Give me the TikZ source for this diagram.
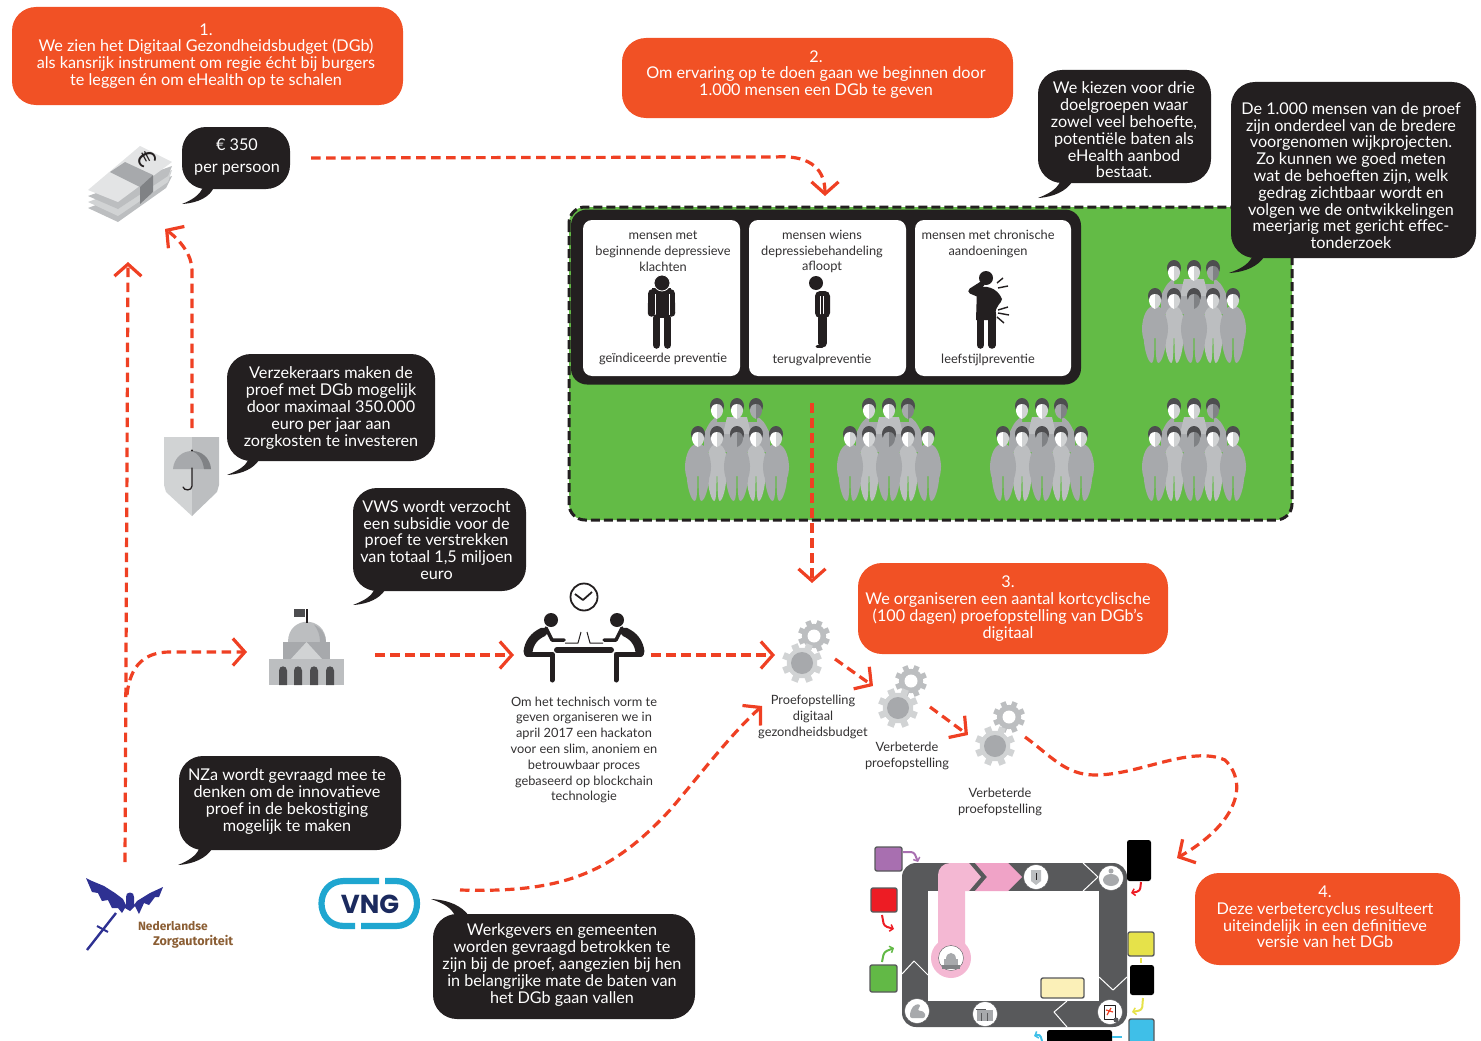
\documentclass[tikz,border=0pt]{standalone}
\usepackage{fontspec}
\setmainfont{Lato}
\newfontfamily\logofont{Fira Sans}
\newfontfamily\vngfont{Poppins}
\usetikzlibrary{arrows.meta}
\definecolor{org}{HTML}{F15125}
\definecolor{ink}{HTML}{231F20}
\definecolor{grn}{HTML}{63BB46}
\definecolor{red1}{HTML}{EF4023}
\definecolor{g1}{HTML}{D1D3D4}
\definecolor{g2}{HTML}{BCBEC0}
\definecolor{g3}{HTML}{A7A9AC}
\definecolor{g4}{HTML}{808285}
\definecolor{g5}{HTML}{58595B}
\definecolor{g6}{HTML}{4D4D4F}
\definecolor{pk1}{HTML}{F4B8D3}
\definecolor{pk2}{HTML}{F0A3C7}
\definecolor{txt}{HTML}{333132}
\definecolor{pale}{HTML}{FBF0B8}
\definecolor{pur}{HTML}{A86FB0}
\definecolor{rd}{HTML}{ED1C24}
\definecolor{gr2}{HTML}{62B946}
\definecolor{yl}{HTML}{E6E24A}
\definecolor{bl}{HTML}{3FBFE8}
\definecolor{nzblue}{HTML}{2E3192}
\definecolor{nzbrown}{HTML}{8B5E34}
\definecolor{vngc}{HTML}{1FA6D0}
\definecolor{vngd}{HTML}{1B2A5E}
\tikzset{
  bub/.style={rounded corners=24pt,inner sep=0pt,outer sep=0pt},
  orangebub/.style={bub,fill=org},
  blackbub/.style={bub,fill=ink},
  bubtext/.style={align=center,inner sep=0pt,text=white,font=\fontsize{16.2}{16.8}\selectfont},
  tail/.style={fill=ink},
  small/.style={align=center,inner sep=0pt,text=txt,font=\fontsize{12.8}{15.8}\selectfont},
  icon/.style={inner sep=0pt,outer sep=0pt},
  link/.style={draw=red1,line width=3.2pt,dash pattern=on 9.5pt off 5.5pt,-{Straight Barb[length=12pt,width=27pt,line width=3.2pt]}},
  whitebox/.style={fill=white,rounded corners=9pt},
  mini/.style={line width=2pt,-{Straight Barb[length=3pt,width=7pt,line width=1.5pt]},rounded corners=3pt},
  cbox/.style={icon,draw=g5,line width=1.4pt,rounded corners=2pt},
  bk/.style={icon,fill=black,rounded corners=2.5pt},
  chev/.style={draw=white,line width=1pt},
  disc/.style={circle,fill=white,draw=g5,line width=.4pt,minimum size=25pt,inner sep=0pt},
  limb/.style={draw=ink,line cap=round,line join=round},
}
\newcommand\crowdman[6]{% x y xscale body faceL faceR
  \begin{scope}[shift={(#1,#2)}]
    \begin{scope}[xscale=#3]
    \fill[#4] (-3,8) .. controls (-13,9) and (-20,18) .. (-21,30) .. controls (-21,34) and (-20,39) .. (-18,42)
       .. controls (-17,52) and (-11,65) .. (-5,65) .. controls (-2,65) and (-.8,55) .. (-.9,40) -- (.9,40)
       .. controls (.8,55) and (2,65) .. (5,65) .. controls (11,65) and (17,52) .. (18,42)
       .. controls (20,39) and (21,34) .. (21,30) .. controls (20,18) and (13,9) .. (3,8) -- cycle;
    \end{scope}
    \fill[g6] (0,-2) ellipse (7 and 8);
    \fill[#5] (0,-4) .. controls (-8,-4) and (-8,8) .. (0,11) -- cycle;
    \fill[#6] (0,-4) .. controls (8,-4) and (8,8) .. (0,11) -- cycle;
  \end{scope}}
\newcommand\crowdgroup[2]{% centre x, top offset
  \begin{scope}[shift={(#1,#2)}]
    \fill[g3] (-33,34) .. controls (-28,22) and (-24,18) .. (-20,17) -- (-20,22) -- (20,22) -- (20,17) .. controls (24,18) and (28,22) .. (33,34) -- (33,52) -- (-33,52) -- cycle;
    \fill[g2] (-10,17) -- (10,17) -- (14,34) -- (-14,34) -- cycle;
    \foreach \dx/\ca/\cb in {-20/white/g1,0/white/g1,19/g3/g4}{
      \fill[g6] (\dx,6) ellipse (7 and 8);
      \fill[\ca] (\dx,4) .. controls (\dx-8,4) and (\dx-8,16) .. (\dx,19) -- cycle;
      \fill[\cb] (\dx,4) .. controls (\dx+8,4) and (\dx+8,16) .. (\dx,19) -- cycle;
    }
    \crowdman{-20}{36}{.52}{g2}{white}{g1}
    \crowdman{19}{36}{.52}{g2}{white}{g1}
    \crowdman{-39}{36}{.62}{g3}{white}{g1}
    \crowdman{0}{36}{.62}{g3}{g3}{g4}
    \crowdman{39}{36}{.62}{g3}{white}{g1}
  \end{scope}}
\newcommand\drawgear[6]{%
  \begin{scope}[shift={(#1,#2)}]
    \fill[#5] (0,0) circle (#3*.76);
    \foreach \a in {0,45,...,315}{\fill[#5,rotate=\a+22.5] (-#3*.17,-#3*.7) rectangle (#3*.17,-#3);}
    \fill[#6] (0,0) circle (#4);
  \end{scope}}
\begin{document}
\begin{tikzpicture}[x=1pt,y=-1pt,line join=round]
\useasboundingbox (0,0) rectangle (1481,1041);

% green field
\node[icon,fill=grn,rounded corners=16pt,minimum width=723pt,minimum height=313pt] (field) at (930.5,363.5) {};
\draw[ink,line width=3pt,dash pattern=on 9pt off 4pt,rounded corners=16pt] (569,207) rectangle (1292,520);
\node[icon,fill=ink,rounded corners=16pt,minimum width=510pt,minimum height=175pt] (panel) at (826,297) {};
\node[icon,whitebox,minimum width=157pt,minimum height=156pt] (b1) at (661.5,298) {};
\node[icon,whitebox,minimum width=157pt,minimum height=156pt] (b2) at (827.5,298) {};
\node[icon,whitebox,minimum width=156pt,minimum height=156pt] (b3) at (993,298) {};
\node[small] (t1) at (663,251) {mensen met\\beginnende depressieve\\klachten};
\node[small] (t2) at (822,251.5) {mensen wiens\\depressiebehandeling\\afloopt};
\node[small] (t3) at (988,244) {mensen met chronische\\aandoeningen};
\node[small] (u1) at (663,359) {geïndiceerde preventie};
\node[small] (u2) at (822,360) {terugvalpreventie};
\node[small] (u3) at (988,360) {leefstijlpreventie};

% figure 1
\draw[limb,line width=7.5pt] (652,293) -- (651.5,313);
\draw[limb,line width=7.5pt] (671,293) -- (671.5,313);
\fill[ink] (652,288) rectangle (671,296);
\fill[ink] (655,290) rectangle (669,318);
\draw[white,line width=.8pt] (655,294) -- (655,316) (669,294) -- (669,316);
\fill[ink,draw=white,line width=.8pt] (662,283) circle (8);
\draw[limb,line width=7.5pt] (656.5,318) -- (656.5,345);
\draw[limb,line width=7.5pt] (667.5,318) -- (667.5,345);
% figure 2
\fill[ink] (816,283) circle (7);
\fill[ink,rounded corners=5pt] (815,291) rectangle (830,318);
\draw[white,line width=.8pt] (820,296) -- (820,315) -- (823.6,315) -- (823.6,296);
\draw[limb,line width=9pt] (822.5,318) -- (822.5,343);
\draw[limb,line width=3pt] (817,346) -- (822,346);
% figure 3
\fill[ink] (986,278) circle (7);
\draw[limb,line width=5.5pt] (982,284) -- (971,291) -- (978,294);
\fill[ink] (977,288) .. controls (985,285) and (997,287) .. (1002,299) .. controls (1002,303) and (994,307) .. (996,314) -- (996,320) -- (976,320) -- cycle;
\draw[limb,line width=7.5pt] (980.5,318) -- (980.5,345);
\draw[limb,line width=7.5pt] (992,318) -- (992,345);
\draw[ink,line width=1.4pt] (997,283) -- (1003,278) (998,288) -- (1008,286) (998,310) -- (1008,307) (998,313) -- (1009,315) (997,317) -- (1004,323);

% crowds
\crowdgroup{1194}{262}
\crowdgroup{737}{400}
\crowdgroup{889}{400}
\crowdgroup{1042}{400}
\crowdgroup{1194}{400}

% orange bubbles
\node[orangebub,minimum width=391pt,minimum height=98pt] (o1) at (207.5,56) {};
\node[bubtext] (o1t) at (206,56) {1.\\We zien het Digitaal Gezondheidsbudget (DGb)\\als kansrijk instrument om regie écht bij burgers\\te leggen én om eHealth op te schalen};
\node[orangebub,minimum width=391pt,minimum height=80pt] (o2) at (817.5,78) {};
\node[bubtext] (o2t) at (816,74.5) {2.\\Om ervaring op te doen gaan we beginnen door\\1.000 mensen een DGb te geven};
\node[orangebub,minimum width=310pt,minimum height=91pt] (o3) at (1013,608.5) {};
\node[bubtext] (o3t) at (1008,608.5) {3.\\We organiseren een aantal kortcyclische\\(100 dagen) proefopstelling van DGb’s\\digitaal};
\node[orangebub,minimum width=265pt,minimum height=92pt] (o4) at (1327.5,919) {};
\node[bubtext] (o4t) at (1325,917) {4.\\Deze verbetercyclus resulteert\\uiteindelijk in een definitieve\\versie van het DGb};

% black bubbles
\fill[tail] (203,187) .. controls (200,195) and (192,200) .. (182,204) .. controls (198,203) and (210,197) .. (214,187) -- cycle;
\node[blackbub,minimum width=108pt,minimum height=62pt] (pp) at (236,158) {};
\node[bubtext] (ppt) at (237,157) {€ 350\\[5pt]per persoon};
\fill[tail] (1060,182) .. controls (1056,190) and (1048,194) .. (1038,198) .. controls (1054,197) and (1066,191) .. (1072,182) -- cycle;
\node[blackbub,minimum width=173pt,minimum height=113pt] (doel) at (1124.5,126.5) {};
\node[bubtext] (doelt) at (1124,130) {We kiezen voor drie\\doelgroepen waar\\zowel veel behoefte,\\potentiële baten als\\eHealth aanbod\\bestaat.};
\fill[tail] (1252,257) .. controls (1248,265) and (1240,269) .. (1229,273) .. controls (1246,272) and (1258,266) .. (1264,257) -- cycle;
\node[blackbub,minimum width=245pt,minimum height=176pt] (proef) at (1353.5,170) {};
\node[bubtext] (prooft) at (1351,175.5) {De 1.000 mensen van de proef\\zijn onderdeel van de bredere\\voorgenomen wijkprojecten.\\Zo kunnen we goed meten\\wat de behoeften zijn, welk\\gedrag zichtbaar wordt en\\volgen we de ontwikkelingen\\meerjarig met gericht effec-\\tonderzoek};
\fill[tail] (248,460) .. controls (245,467) and (237,471) .. (227,475) .. controls (243,474) and (254,468) .. (259,460) -- cycle;
\node[blackbub,minimum width=208pt,minimum height=107pt] (verz) at (331,407.5) {};
\node[bubtext] (verzt) at (331,408) {Verzekeraars maken de\\proef met DGb mogelijk\\door maximaal 350.000\\euro per jaar aan\\zorgkosten te investeren};
\fill[tail] (374,590) .. controls (371,597) and (363,601) .. (353,605) .. controls (369,604) and (380,598) .. (385,590) -- cycle;
\node[blackbub,minimum width=173pt,minimum height=103pt] (vws) at (439.5,539.5) {};
\node[bubtext] (vwst) at (436.5,540) {VWS wordt verzocht\\een subsidie voor de\\proef te verstrekken\\van totaal 1,5 miljoen\\euro};
\fill[tail] (199,849) .. controls (196,856) and (188,861) .. (178,865) .. controls (194,864) and (206,858) .. (212,849) -- cycle;
\node[blackbub,minimum width=222pt,minimum height=94pt] (nza) at (290,803) {};
\node[bubtext] (nzat) at (287,801.5) {NZa wordt gevraagd mee te\\denken om de innovatieve\\proef in de bekostiging\\mogelijk te maken};
\fill[tail] (455,916) .. controls (452,908) and (443,903) .. (431,899) .. controls (449,900) and (462,906) .. (469,916) -- cycle;
\node[blackbub,minimum width=262pt,minimum height=105pt] (werk) at (564,966.5) {};
\node[bubtext] (werkt) at (562,965) {Werkgevers en gemeenten\\worden gevraagd betrokken te\\zijn bij de proef, aangezien bij hen\\in belangrijke mate de baten van\\het DGb gaan vallen};

% money
\node[icon,minimum width=84pt,minimum height=76pt] (money) at (130,184) {};
\fill[g2] (88,208) -- (118,222) -- (166,188) -- (172,176) -- cycle;
\fill[g1] (88,202) -- (118,216) -- (168,182) -- (172,170) -- cycle;
\fill[g2] (88,196) -- (118,209) -- (168,176) -- (172,166) -- cycle;
\fill[g1!60] (88,190) -- (140,146) -- (172,162) -- (118,202) -- cycle;
\fill[g3] (110,172) -- (125,162) -- (153,175) -- (140,187) -- cycle;
\fill[g4] (140,187) -- (153,175) -- (153,192) -- (140,204) -- cycle;
\node[icon,text=ink,rotate=-62,font=\fontsize{25}{25}\selectfont] (euro) at (147,159) {€};

% shield
\node[icon,minimum width=55pt,minimum height=79pt] (shield) at (191.5,476.5) {};
\fill[g1] (164,437) -- (192,437) -- (192,516) -- (166,492) -- (164,485) -- cycle;
\fill[g2] (192,437) -- (219,437) -- (219,485) -- (217,492) -- (192,516) -- cycle;
\fill[g3] (173,469) .. controls (174,458) and (182,451) .. (192,451) .. controls (202,451) and (210,458) .. (211,469) -- cycle;
\fill[g4] (192,451) .. controls (202,451) and (210,458) .. (211,469) -- (204,469) .. controls (203,460) and (198,453) .. (192,451) -- cycle;
\fill[ink] (192,450.5) circle (1.2);
\draw[ink,line width=1.3pt,line cap=round] (192,468) -- (192,486) .. controls (192,491) and (184,491) .. (183,487);

% capitol
\node[icon,minimum width=75pt,minimum height=76pt] (capitol) at (306.5,654) {};
\fill[g2] (288,642) .. controls (288,615) and (326,615) .. (326,642) -- cycle;
\fill[g3] (314,624.5) .. controls (322,629) and (326,635) .. (326,642) -- (320,642) .. controls (320,635) and (318,630) .. (314,624.5) -- cycle;
\fill[ink] (305.5,609) rectangle (307.5,623);
\fill[g6] (294,609) rectangle (305,617);
\fill[g3] (283,642) rectangle (330,660);
\fill[g1] (290,660) -- (306.5,642) -- (323,660) -- cycle;
\fill[g2] (269,659) rectangle (344,685);
\foreach \xx in {283,298,314,330}{\fill[g6] (\xx-4,685) -- (\xx-4,670.5) .. controls (\xx-4,665) and (\xx+4,665) .. (\xx+4,670.5) -- (\xx+4,685) -- cycle;}

% hackathon
\node[icon,minimum width=118pt,minimum height=100pt] (hack) at (584,655) {};
\draw[ink,line width=1.8pt] (584,597) circle (13.5);
\draw[ink,line width=1.8pt] (575,594) -- (583,600) -- (592,592);
\foreach \mm in {1,-1}{
  \begin{scope}[xshift=584pt,xscale=\mm]
    \fill[ink] (-33,620) circle (7);
    \draw[limb,line width=5pt] (-57,654) -- (-32,654) -- (-32,680);
    \draw[limb,line width=9pt] (-41,632) .. controls (-50,636) and (-55,643) .. (-56,652);
    \draw[limb,line width=3.5pt] (-38,628) -- (-32,640) -- (-20,640);
    \draw[ink,line width=1pt] (-19,643) -- (-6,643) -- (-3,632);
  \end{scope}}
\draw[limb,line width=6pt] (557,650) -- (611,650);
\node[small] (hacktext) at (584,750) {Om het technisch vorm te\\geven organiseren we in\\april 2017 een hackaton\\voor een slim, anoniem en\\betrouwbaar proces\\gebaseerd op blockchain\\technologie};

% gears
\node[icon,minimum width=40pt,minimum height=52pt] (gear1) at (807,650) {};
\node[icon,minimum width=40pt,minimum height=52pt] (gear2) at (904,695) {};
\node[icon,minimum width=40pt,minimum height=52pt] (gear3) at (1002,732) {};
\foreach \gx/\gy/\sx/\sy in {802/663/814/636,898/708/911/681,995/746/1009/717}{
  \drawgear{\sx}{\sy}{16}{6.5}{g2}{white}
  \drawgear{\gx}{\gy}{20}{11}{g1}{g3}
}
\node[small] (gl1) at (813,717) {Proefopstelling\\digitaal\\gezondheidsbudget};
\node[small] (gl2) at (907,756) {Verbeterde\\proefopstelling};
\node[small] (gl3) at (1000,802) {Verbeterde\\proefopstelling};

% board
\node[icon,fill=g5,rounded corners=14pt,minimum width=225pt,minimum height=164pt] (board) at (1014.5,945) {};
\fill[white] (928,891) rectangle (1099,1001);
\fill[pk1,rounded corners=12pt] (938,958) -- (938,863) -- (965,863) -- (965,958) -- cycle;
\fill[pk1] (950,863) -- (969,863) -- (981,877) -- (969,891) -- (950,891) -- cycle;
\fill[pk2] (975,863) -- (1008,863) -- (1022,877) -- (1008,891) -- (975,891) -- (987,877) -- cycle;
\fill[pk1] (951,958) circle (20);
\draw[chev] (1083,863) -- (1098,877) -- (1083,891);
\draw[chev] (902,974) -- (914,961) -- (928,975);
\draw[chev] (1099,977) -- (1113,990) -- (1127,977);
\draw[chev] (1067,1001) -- (1054,1012) -- (1067,1027);
\node[disc] (d1) at (951,958) {};
\fill[g4] (942,965) rectangle (960,969);
\fill[g3] (944,959) rectangle (958,965);
\fill[g3] (946,959) .. controls (946,951) and (956,951) .. (956,959) -- cycle;
\node[disc] (d2) at (1036,877) {};
\fill[g2] (1031,870) -- (1041,870) -- (1041,881) -- (1036,885) -- (1031,881) -- cycle;
\draw[ink,line width=.6pt] (1036,873) -- (1036,880);
\node[disc] (d3) at (1111,878) {};
\fill[g3] (1111,880) ellipse (8 and 6);
\fill[g3] (1111,871) circle (2.5);
\node[disc] (d4) at (1110,1012) {};
\draw[ink,line width=.7pt,fill=white] (1104,1005) rectangle (1115,1019);
\draw[red1,line width=1.2pt] (1107,1015) -- (1111,1008) (1106,1010) -- (1113,1012);
\fill[g5] (1116,1020) circle (2.5);
\node[disc] (d5) at (985,1014) {};
\fill[g3] (977,1010) rectangle (993,1021);
\draw[g5,line width=.8pt] (976,1009) -- (986,1009) (981,1013) -- (981,1021) (987,1013) -- (987,1021);
\node[disc] (d6) at (917,1011) {};
\fill[g3,rounded corners=2pt] (910,1018) -- (910,1012) -- (914,1005) -- (920,1004) -- (920,1008) -- (917,1010) -- (925,1012) -- (925,1018) -- cycle;
\node[cbox,fill=pale,minimum width=43pt,minimum height=20pt] (note) at (1062.5,988) {};
\node[cbox,fill=pur,minimum width=27pt,minimum height=24pt] (cpur) at (888.5,859) {};
\node[cbox,fill=rd,minimum width=26pt,minimum height=24pt] (cred) at (884,900) {};
\node[cbox,fill=gr2,minimum width=27pt,minimum height=27pt] (cgrn) at (883.5,978.5) {};
\node[bk,minimum width=24pt,minimum height=41pt] (k1) at (1139,860.5) {};
\node[cbox,fill=yl,minimum width=26pt,minimum height=24pt] (cyel) at (1141,944) {};
\node[bk,minimum width=24pt,minimum height=30pt] (k2) at (1142,980) {};
\node[cbox,fill=bl,minimum width=25pt,minimum height=24pt] (cblu) at (1141.5,1031) {};
\node[bk,minimum width=65pt,minimum height=14pt] (k3) at (1079.5,1037) {};
\draw[mini,pur] (903,852) -- (914,852) -- (918,862);
\draw[mini,rd] (882,915) -- (884,926) -- (894,929);
\draw[mini,gr2] (882,962) -- (884,952) -- (894,948);
\draw[mini,rd] (1141,882) -- (1140,891) -- (1131,893);
\draw[mini,yl] (1143,998) -- (1142,1010) -- (1132,1012);
\draw[mini,bl] (1042,1041) -- (1040,1034) -- (1034,1036);
\draw[bl,line width=2pt] (1112,1037) -- (1122,1037);
\draw[yl,line width=2pt] (1141,958) -- (1141,963);

% NZa logo
\node[icon,minimum width=100pt,minimum height=80pt] (nzalogo) at (125,914) {};
\fill[nzblue] (86,878) -- (92,881) -- (104,886) -- (115,893) -- (123,899) -- (126,905) -- (126,897) .. controls (125,891) and (135,891) .. (134,897) -- (134,905) -- (137,901) -- (150,893) -- (163,887) -- (159,897) -- (155,897) -- (149,905) -- (144,903) -- (139,914) -- (135,906) -- (130,911) -- (125,908) -- (122,913) -- (118,908) -- (112,908) -- (108,900) -- (102,901) -- (98,893) -- (92,892) -- cycle;
\draw[nzblue,line width=2.4pt] (116,913) -- (87,950);
\draw[nzblue,line width=2pt] (97,926) -- (108,932);
\node[icon,anchor=west,text=nzbrown,font=\logofont\bfseries\fontsize{12}{12}\selectfont] (nz1) at (138,926) {Nederlandse};
\node[icon,anchor=west,text=nzbrown,font=\logofont\bfseries\fontsize{12.6}{12}\selectfont] (nz2) at (153,942) {Zorgautoriteit};

% VNG logo
\node[icon,text=vngd,font=\vngfont\bfseries\fontsize{26}{26}\selectfont] (vng) at (370,904) {VNG};
\draw[vngc,line width=6.2pt] (379,881) -- (344,881) .. controls (314,881) and (314,926) .. (344,926) -- (355,926);
\draw[vngc,line width=6.2pt] (385,881) -- (396,881) .. controls (424,881) and (424,926) .. (396,926) -- (361,926);

% connectors
\coordinate (a1e) at (825,196);
\coordinate (a2e) at (165,229);
\coordinate (a3s) at (125,862);
\coordinate (a3e) at (128,262);
\coordinate (a4s) at (127,695);
\coordinate (a7s) at (812,403);
\coordinate (a7e) at (812,583);
\coordinate (a10e) at (1177,858);
\coordinate (a11s) at (460,890);
\coordinate (a11e) at (762,706);
\draw[link] ([xshift=21pt]pp.east) -- (775,157) .. controls (805,155) and (825,165) .. (a1e);
\draw[link] ([xshift=.5pt,yshift=9pt]shield.north) -- (192,270) .. controls (192,255) and (180,240) .. (a2e);
\draw[link] (a3s) -- (a3e);
\draw[link] (a4s) .. controls (130,665) and (145,652) .. (170,652) -- ([xshift=-22pt,yshift=2pt]capitol.west);
\draw[link] ([xshift=31pt,yshift=-1pt]capitol.east) -- ([xshift=-11pt]hack.west);
\draw[link] ([xshift=8pt]hack.east) -- ([xshift=-12pt,yshift=-5pt]gear1.west);
\draw[link] (a7s) -- (a7e);
\draw[link] ([xshift=8pt,yshift=-9pt]gear1.east) -- ([xshift=-11pt,yshift=9pt]gear2.west);
\draw[link] ([xshift=6pt,yshift=-12pt]gear2.east) -- ([xshift=-14pt,yshift=-3pt]gear3.west);
\draw[link] ([xshift=3pt,yshift=-5pt]gear3.east) .. controls (1050,755) and (1065,775) .. (1095,775) .. controls (1140,775) and (1190,745) .. (1225,760) .. controls (1250,785) and (1235,825) .. (a10e);
\draw[link] (a11s) .. controls (560,893) and (610,875) .. (670,810) .. controls (700,775) and (730,735) .. (a11e);
\end{tikzpicture}
\end{document}
